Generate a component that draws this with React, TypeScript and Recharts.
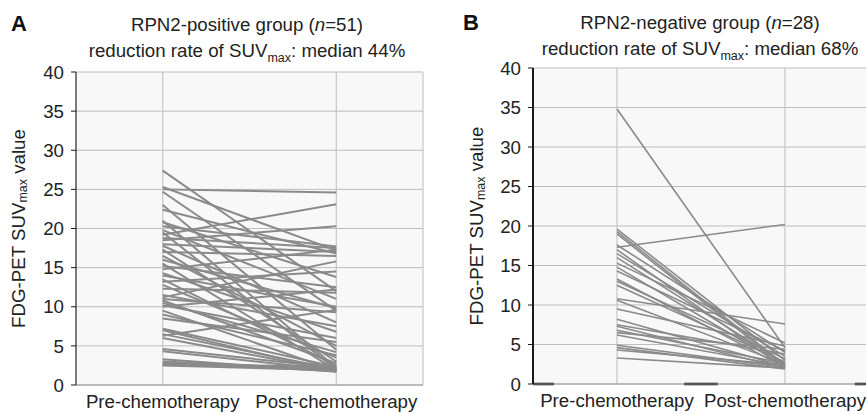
import React from "react";
import {
  LineChart,
  Line,
  XAxis,
  YAxis,
  CartesianGrid,
  ReferenceLine,
} from "recharts";

const FONT = "'Liberation Sans', Arial, Helvetica, sans-serif";
const FS = 18.7;

// category slots on a 0..4 axis, like the spreadsheet layout
const categories = ["Pre-chemotherapy", "Post-chemotherapy"];
const categorySlots = [1, 3];
const yTicks = [0, 5, 10, 15, 20, 25, 30, 35, 40];

// RPN2-positive group (n=51)
const preA = [
  27.4, 25.3, 25.0, 24.7, 23.0, 22.4, 21.0, 20.8, 20.3, 19.8, 19.5, 19.2, 18.8,
  18.5, 18.0, 17.8, 17.3, 17.0, 16.5, 16.0, 15.5, 15.2, 14.8, 14.3, 13.5, 13.2,
  12.8, 12.3, 11.5, 11.2, 11.0, 10.8, 10.5, 10.2, 10.0, 9.5, 9.0, 8.5, 7.2, 7.0,
  6.5, 6.3, 6.0, 4.6, 4.3, 3.3, 3.0, 2.8, 2.6, 2.5, 14.0,
];
const postA = [
  12.0, 17.2, 24.6, 9.5, 4.5, 16.8, 2.2, 13.8, 17.7, 11.0, 2.0, 23.1, 17.5,
  20.3, 17.0, 8.0, 3.0, 16.5, 5.0, 9.8, 1.9, 12.5, 17.3, 6.8, 2.5, 14.5, 3.5,
  11.8, 7.5, 15.8, 9.3, 2.8, 4.2, 6.0, 12.2, 1.8, 3.8, 5.5, 2.3, 1.7, 2.0, 9.6,
  1.8, 2.2, 1.9, 1.7, 2.0, 1.8, 2.4, 1.9, 10.0,
];

// RPN2-negative group (n=28)
const preB = [
  34.8, 19.6, 19.3, 19.0, 17.6, 17.3, 17.0, 16.5, 16.0, 15.3, 14.8, 14.3, 13.3,
  13.0, 12.5, 10.8, 10.6, 9.5, 8.2, 7.5, 7.3, 6.8, 6.5, 6.2, 4.9, 4.6, 4.3, 3.3,
];
const postB = [
  4.6, 3.0, 2.4, 2.2, 4.0, 20.2, 2.0, 3.5, 2.6, 5.2, 2.3, 4.2, 2.1, 3.2, 2.8,
  7.6, 2.5, 4.8, 2.2, 3.8, 2.0, 2.6, 4.4, 2.3, 2.1, 1.9, 2.4, 2.0,
];

// black fragments of the x axis line in panel B (axis units)
const axisPiecesB = [
  [0, 0.25],
  [1.8, 2.2],
  [3.83, 4],
];

function buildRows(pre: number[], post: number[]) {
  const first: Record<string, number> = { x: categorySlots[0] };
  const second: Record<string, number> = { x: categorySlots[1] };
  pre.forEach((v, i) => {
    first[`s${i}`] = v;
    second[`s${i}`] = post[i];
  });
  return [first, second];
}

const tickFmt = (v: number) => categories[categorySlots.indexOf(v)] ?? "";

function YLabel(props: any) {
  const { viewBox, labelX } = props;
  const cy = viewBox.y + viewBox.height / 2;
  return (
    <text
      x={labelX}
      y={cy}
      transform={`rotate(-90, ${labelX}, ${cy})`}
      textAnchor="middle"
      fontFamily={FONT}
      fontSize={FS}
      fill="#222"
      dominantBaseline="central"
    >
      FDG-PET SUV
      <tspan fontSize={12.5} dy={5}>
        max
      </tspan>
      <tspan dy={-5}> value</tspan>
    </text>
  );
}

interface PanelProps {
  pre: number[];
  post: number[];
  width: number;
  margin: { top: number; right: number; bottom: number; left: number };
  lineWidth: number;
  axisWidth: number;
  labelX: number;
  pieces?: number[][];
}

function Panel({ pre, post, width, margin, lineWidth, axisWidth, labelX, pieces }: PanelProps) {
  const rows = buildRows(pre, post);
  return (
    <LineChart width={width} height={414} data={rows} margin={margin}>
      <CartesianGrid stroke="#bdbdbd" fill="#f8f8f8" strokeWidth={1} />
      <XAxis
        dataKey="x"
        type="number"
        domain={[0, 4]}
        ticks={categorySlots}
        tickFormatter={tickFmt}
        axisLine={{ stroke: "#9a9a9a" }}
        tickLine={false}
        tickSize={0}
        tickMargin={10}
        height={29}
        interval={0}
        tick={{ fontFamily: FONT, fontSize: FS, fill: "#222" }}
      />
      <YAxis
        type="number"
        domain={[0, 40]}
        ticks={yTicks}
        width={40}
        axisLine={{ stroke: "#1a1a1a", strokeWidth: axisWidth }}
        tickLine={{ stroke: "#1a1a1a" }}
        tickSize={5}
        tickMargin={7}
        tick={{ fontFamily: FONT, fontSize: FS, fill: "#222" }}
        label={<YLabel labelX={labelX} />}
      />
      {pre.map((_, i) => (
        <Line
          key={i}
          dataKey={`s${i}`}
          stroke="#8a8a8a"
          strokeWidth={lineWidth}
          dot={false}
          activeDot={false}
          isAnimationActive={false}
        />
      ))}
      {(pieces ?? []).map((p, i) => (
        <ReferenceLine
          key={`piece-${i}`}
          segment={[
            { x: p[0], y: 0 },
            { x: p[1], y: 0 },
          ]}
          stroke="#111"
          strokeWidth={2.5}
          ifOverflow="visible"
        />
      ))}
    </LineChart>
  );
}

const titleStyle: React.CSSProperties = {
  position: "absolute",
  width: 420,
  textAlign: "center",
  fontFamily: FONT,
  fontSize: FS,
  lineHeight: "18px",
  color: "#222",
  whiteSpace: "nowrap",
};

const letterStyle: React.CSSProperties = {
  position: "absolute",
  fontFamily: FONT,
  fontSize: 22,
  fontWeight: "bold",
  lineHeight: "22px",
  color: "#111",
};

export default function App() {
  return (
    <div
      style={{
        position: "absolute",
        left: 0,
        top: 0,
        width: 866,
        height: 414,
        overflow: "hidden",
        background: "#fff",
      }}
    >
      <div style={{ position: "absolute", left: 0, top: 0 }}>
        <Panel
          pre={preA}
          post={postA}
          width={433}
          margin={{ top: 72, right: 10, bottom: 0, left: 36 }}
          lineWidth={2}
          axisWidth={1}
          labelX={18}
        />
      </div>
      <div style={{ position: "absolute", left: 433, top: 0 }}>
        <Panel
          pre={preB}
          post={postB}
          width={440}
          margin={{ top: 68, right: 4, bottom: 1, left: 60 }}
          lineWidth={1.6}
          axisWidth={2}
          labelX={43}
          pieces={axisPiecesB}
        />
      </div>

      <div style={{ ...letterStyle, left: 11, top: 13 }}>A</div>
      <div style={{ ...letterStyle, left: 463, top: 12 }}>B</div>

      <div style={{ ...titleStyle, left: 247 - 210, top: 16 }}>
        RPN2-positive group (<i>n</i>=51)
      </div>
      <div style={{ ...titleStyle, left: 247 - 210, top: 42 }}>
        reduction rate of SUV<sub style={{ fontSize: 12.5, lineHeight: 0 }}>max</sub>: median 44%
      </div>
      <div style={{ ...titleStyle, left: 700 - 210, top: 14 }}>
        RPN2-negative group (<i>n</i>=28)
      </div>
      <div style={{ ...titleStyle, left: 700 - 210, top: 40 }}>
        reduction rate of SUV<sub style={{ fontSize: 12.5, lineHeight: 0 }}>max</sub>: median 68%
      </div>
    </div>
  );
}
